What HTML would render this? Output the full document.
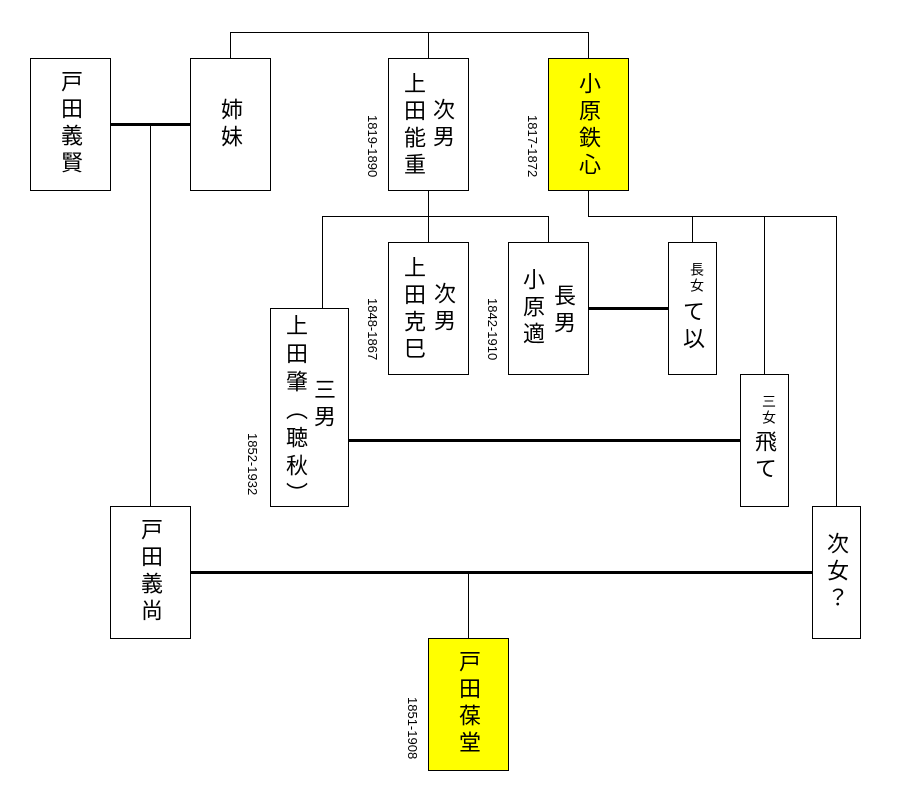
<!DOCTYPE html>
<html><head><meta charset="utf-8"><style>
body{margin:0;width:902px;height:786px;background:#fff;position:relative;overflow:hidden;font-family:"Liberation Sans","Noto Sans CJK JP",sans-serif;}
.b{position:absolute;border:1px solid #000;box-sizing:border-box;background:#fff;}
.y{background:#ffff00;}
.l{position:absolute;background:#000;}
.t{position:absolute;writing-mode:vertical-rl;font-size:22px;line-height:24px;letter-spacing:5px;white-space:nowrap;color:#000;}
.s{font-size:14px;letter-spacing:2px;}
.d{position:absolute;writing-mode:vertical-rl;font-size:13px;line-height:14px;white-space:nowrap;color:#000;}
</style></head><body>
<div class="l" style="left:230px;top:32px;width:359px;height:1px"></div>
<div class="l" style="left:230px;top:32px;width:1px;height:26px"></div>
<div class="l" style="left:428px;top:32px;width:1px;height:26px"></div>
<div class="l" style="left:588px;top:32px;width:1px;height:26px"></div>
<div class="l" style="left:150px;top:124px;width:1px;height:382px"></div>
<div class="l" style="left:428px;top:190px;width:1px;height:52px"></div>
<div class="l" style="left:322px;top:216px;width:227px;height:1px"></div>
<div class="l" style="left:322px;top:216px;width:1px;height:92px"></div>
<div class="l" style="left:548px;top:216px;width:1px;height:26px"></div>
<div class="l" style="left:588px;top:190px;width:1px;height:26px"></div>
<div class="l" style="left:588px;top:216px;width:249px;height:1px"></div>
<div class="l" style="left:692px;top:216px;width:1px;height:26px"></div>
<div class="l" style="left:764px;top:216px;width:1px;height:158px"></div>
<div class="l" style="left:836px;top:216px;width:1px;height:290px"></div>
<div class="l" style="left:468px;top:572px;width:1px;height:66px"></div>
<div class="l" style="left:110px;top:123px;width:80px;height:3px"></div>
<div class="l" style="left:588px;top:307px;width:80px;height:3px"></div>
<div class="l" style="left:348px;top:439px;width:392px;height:3px"></div>
<div class="l" style="left:190px;top:571px;width:622px;height:3px"></div>
<div class="b" style="left:30px;top:58px;width:81px;height:133px"></div>
<div class="b" style="left:190px;top:58px;width:81px;height:133px"></div>
<div class="b" style="left:388px;top:58px;width:81px;height:133px"></div>
<div class="b y" style="left:548px;top:58px;width:81px;height:133px"></div>
<div class="b" style="left:388px;top:242px;width:81px;height:133px"></div>
<div class="b" style="left:508px;top:242px;width:81px;height:133px"></div>
<div class="b" style="left:668px;top:242px;width:49px;height:133px"></div>
<div class="b" style="left:270px;top:308px;width:79px;height:199px"></div>
<div class="b" style="left:740px;top:374px;width:49px;height:133px"></div>
<div class="b" style="left:110px;top:506px;width:81px;height:133px"></div>
<div class="b" style="left:812px;top:506px;width:49px;height:133px"></div>
<div class="b y" style="left:428px;top:638px;width:81px;height:133px"></div>
<div class="t" style="left:58px;top:70px">戸田義賢</div>
<div class="t" style="left:218px;top:98px">姉妹</div>
<div class="t" style="left:401px;top:72px">上田能重</div>
<div class="t" style="left:430px;top:98px">次男</div>
<div class="t" style="left:576px;top:72px">小原鉄心</div>
<div class="t" style="left:401px;top:256px">上田克巳</div>
<div class="t" style="left:431px;top:282px">次男</div>
<div class="t" style="left:520px;top:268px">小原適</div>
<div class="t" style="left:551px;top:284px">長男</div>
<div class="t s" style="left:685px;top:262px">長女</div>
<div class="t" style="left:680px;top:300px">て以</div>
<div class="t" style="left:283px;top:314px;letter-spacing:6px">上田肇（聴秋）</div>
<div class="t" style="left:311px;top:378px">三男</div>
<div class="t s" style="left:757px;top:394px">三女</div>
<div class="t" style="left:752px;top:430px">飛て</div>
<div class="t" style="left:138px;top:518px">戸田義尚</div>
<div class="t" style="left:824px;top:532px">次女？</div>
<div class="t" style="left:456px;top:650px">戸田葆堂</div>
<div class="d" style="left:365px;top:115px">1819-1890</div>
<div class="d" style="left:525px;top:115px">1817-1872</div>
<div class="d" style="left:365px;top:298px">1848-1867</div>
<div class="d" style="left:485px;top:298px">1842-1910</div>
<div class="d" style="left:245px;top:433px">1852-1932</div>
<div class="d" style="left:405px;top:697px">1851-1908</div>
</body></html>
